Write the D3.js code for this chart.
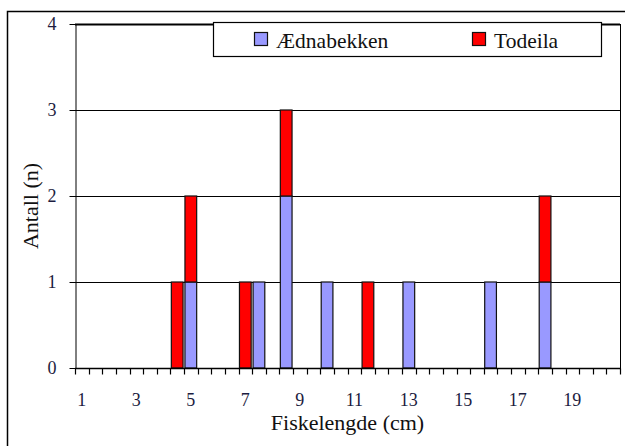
<!DOCTYPE html>
<html>
<head>
<meta charset="utf-8">
<script src="https://cdn.jsdelivr.net/npm/d3@7"></script>
<style>
  body { margin: 0; background: #fff; }
  svg { display: block; }
</style>
</head>
<body>
<svg width="625" height="446"></svg>
<script>
// fish length classes (cm), half-cm steps
const lengths = ["1","1.5","2","2.5","3","3.5","4","4.5","5","5.5",
                 "6","6.5","7","7.5","8","8.5","9","9.5","10","10.5",
                 "11","11.5","12","12.5","13","13.5","14","14.5","15","15.5",
                 "16","16.5","17","17.5","18","18.5","19","19.5","20","20.5"];
const aednabekken = [0,0,0,0,0,0,0,0,1,0, 0,0,0,1,0,2,0,0,1,0,
                     0,0,0,0,1,0,0,0,0,0, 1,0,0,0,1,0,0,0,0,0];
const todeila =     [0,0,0,0,0,0,0,1,1,0, 0,0,1,0,0,1,0,0,0,0,
                     0,1,0,0,0,0,0,0,0,0, 0,0,0,0,1,0,0,0,0,0];
const seriesNames = ["Ædnabekken", "Todeila"];
const colors = ["#9999ff", "#ff0000"];
const yTicks = [0, 1, 2, 3, 4];

const svg = d3.select("svg");
const plotL = 75, plotR = 620, plotT = 24, plotB = 368;
const serif = "Liberation Serif";

// outer frame (only top + left visible in the picture)
svg.append("rect")
  .attr("x", 7.5).attr("y", 11.5)
  .attr("width", 640).attr("height", 460)
  .attr("fill", "none").attr("stroke", "#000").attr("stroke-width", 1.5);

const x = d3.scaleBand().domain(lengths).range([plotL, plotR]).paddingInner(0.14).paddingOuter(0.07);
const y = d3.scaleLinear().domain([0, 4]).range([plotB, plotT]);

// stacked data
const rows = lengths.map((l, i) => ({ len: l, Ædnabekken: aednabekken[i], Todeila: todeila[i] }));
const stacked = d3.stack().keys(seriesNames)(rows);

// gridlines
svg.append("g").selectAll("line")
  .data(yTicks.slice(1))
  .join("line")
  .attr("x1", plotL).attr("x2", plotR)
  .attr("y1", d => Math.round(y(d)) + 0.5).attr("y2", d => Math.round(y(d)) + 0.5)
  .attr("stroke", "#000")
  .attr("stroke-width", d => d === 4 ? 2 : 1);

// right border of plot
svg.append("line")
  .attr("x1", plotR + 0.5).attr("x2", plotR + 0.5)
  .attr("y1", plotT).attr("y2", plotB)
  .attr("stroke", "#000");

// bars
svg.append("g").selectAll("g")
  .data(stacked)
  .join("g")
  .attr("fill", (d, i) => colors[i])
  .selectAll("rect")
  .data(d => d.filter(s => s[1] - s[0] > 0))
  .join("rect")
  .attr("x", d => x(d.data.len))
  .attr("width", x.bandwidth())
  .attr("y", d => y(d[1]))
  .attr("height", d => y(d[0]) - y(d[1]))
  .attr("stroke", "#111")
  .attr("stroke-width", 1.2);

// y axis
const yAxis = svg.append("g")
  .attr("transform", `translate(${plotL + 0.5},0)`)
  .call(d3.axisLeft(y).tickValues(yTicks).tickFormat(d3.format("d")).tickSize(6).tickSizeOuter(0));
yAxis.select(".domain").attr("stroke", "#000");
yAxis.selectAll("text")
  .attr("x", -19)
  .attr("font-size", 18)
  .attr("fill", "#1c1c40")
  .style("font-family", serif);

// x axis: ticks at category boundaries, labels every 4th category
const xAxisG = svg.append("g").attr("transform", `translate(0,${plotB + 0.5})`);
xAxisG.append("line")
  .attr("x1", plotL).attr("x2", plotR + 1)
  .attr("stroke", "#000").attr("stroke-width", 1.5);
const boundaries = lengths.map((l, i) => plotL + i * (plotR - plotL) / lengths.length).concat([plotR]);
xAxisG.selectAll("line.tk")
  .data(boundaries)
  .join("line")
  .attr("class", "tk")
  .attr("x1", d => Math.round(d) + 0.5).attr("x2", d => Math.round(d) + 0.5)
  .attr("y1", 0).attr("y2", 6)
  .attr("stroke", "#000").attr("stroke-width", 1.2);
xAxisG.selectAll("text")
  .data(lengths.filter((l, i) => i % 4 === 0))
  .join("text")
  .attr("x", d => x(d) + x.bandwidth() / 2)
  .attr("y", 37)
  .attr("text-anchor", "middle")
  .style("font-family", serif)
  .attr("font-size", 18)
  .attr("fill", "#1c1c40")
  .text(d => d);

// axis titles
svg.append("text")
  .attr("x", (plotL + plotR) / 2)
  .attr("y", 430)
  .attr("text-anchor", "middle")
  .style("font-family", serif)
  .attr("font-size", 22)
  .attr("fill", "#111")
  .text("Fiskelengde (cm)");
svg.append("text")
  .attr("transform", "translate(38,206) rotate(-90)")
  .attr("text-anchor", "middle")
  .style("font-family", serif)
  .attr("font-size", 22)
  .attr("fill", "#111")
  .text("Antall (n)");

// legend
const lg = svg.append("g");
lg.append("rect")
  .attr("x", 213.5).attr("y", 22.5).attr("width", 388).attr("height", 34)
  .attr("fill", "#fff").attr("stroke", "#000").attr("stroke-width", 1.2);
const lx = [254, 472];
seriesNames.forEach((name, i) => {
  lg.append("rect")
    .attr("x", lx[i] + 0.5).attr("y", 32.5).attr("width", 13).attr("height", 13)
    .attr("fill", colors[i]).attr("stroke", "#111").attr("stroke-width", 1.2);
  lg.append("text")
    .attr("x", lx[i] + 22).attr("y", 48)
    .style("font-family", serif)
    .attr("font-size", 21.5)
    .attr("fill", "#111")
    .text(name);
});
</script>
</body>
</html>
